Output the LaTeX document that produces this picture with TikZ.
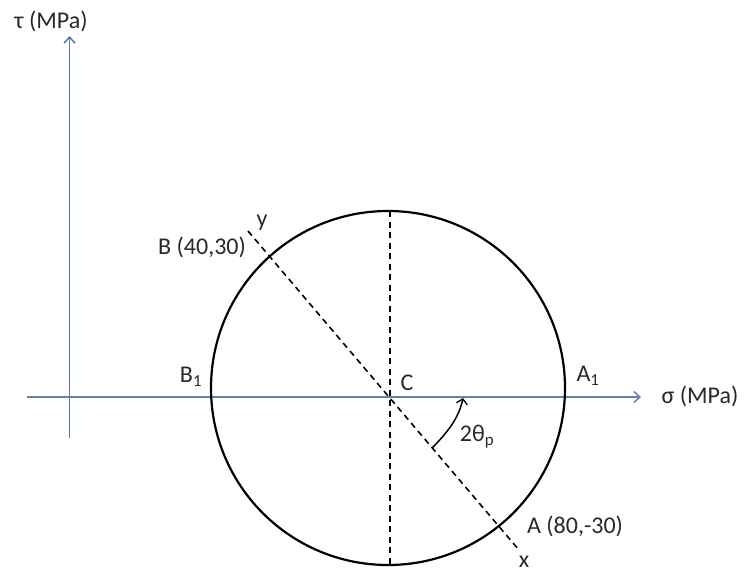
\documentclass[tikz,border=0pt]{standalone}
\usepackage{fontspec}
\setmainfont{Carlito}
\usetikzlibrary{arrows.meta}
\definecolor{axisblue}{RGB}{80,126,180}
\definecolor{axisgray}{RGB}{100,130,165}
\definecolor{textgray}{RGB}{40,40,40}
\tikzset{
  axisline/.style={draw=axisblue, line width=1.7pt, -{Straight Barb[length=6pt,width=11pt,line width=1.5pt]}},
  circleline/.style={draw=black, line width=2.2pt},
  dashline/.style={draw=black, line width=1.6pt, dash pattern=on 6pt off 4.5pt},
  lbl/.style={font=\fontsize{24}{28}\selectfont, text=textgray, inner sep=0pt, anchor=center},
  anglearrow/.style={draw=black, line width=1.5pt, -{Straight Barb[length=5pt,width=11pt,line width=1.3pt]}}
}
\begin{document}
\begin{tikzpicture}[x=1pt,y=-1pt]
\useasboundingbox (0,0) rectangle (746,575);
% axes
\coordinate (tb) at (69.5,438);
\coordinate (tt) at (69.5,36);
\coordinate (sl) at (27,397);
\coordinate (sr) at (641,397);
\draw[axisline] (tb) -- (tt);
\draw[axisline, draw=axisgray, line width=2.4pt] (sl) -- (sr);
% circle
\coordinate (O) at (388,388);
\draw[circleline] (O) circle (177);
% dashed lines
\coordinate (vt) at (390,211);
\coordinate (vb) at (390,565);
\draw[dashline] (vt) -- (vb);
\coordinate (dt) at (248,231);
\coordinate (db) at (519,550);
\draw[dashline] (dt) -- (db);
% angle arrow
\coordinate (as) at (432,448);
\coordinate (ae) at (463,398);
\draw[anglearrow] (as) .. controls (447,433) and (459,418) .. (ae);
% labels
\node[lbl] (tau) at (51,21) {τ (MPa)};
\node[lbl] (sig) at (700,396) {σ (MPa)};
\node[lbl] (B) at (202,247) {B (40,30)};
\node[lbl] (y) at (262,223) {y};
\node[lbl] (B1) at (191,377) {B\textsubscript{1}};
\node[lbl] (C) at (407,383) {C};
\node[lbl] (A1) at (588,376) {A\textsubscript{1}};
\node[lbl] (tp) at (477,437) {2θ\textsubscript{p}};
\node[lbl] (A) at (575,526) {A (80,-30)};
\node[lbl] (x) at (524,562) {x};
\end{tikzpicture}
\end{document}
